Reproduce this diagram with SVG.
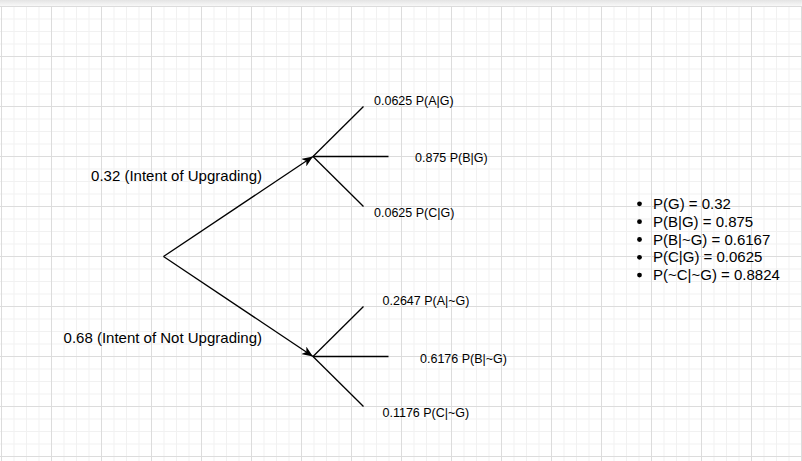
<svg xmlns="http://www.w3.org/2000/svg" width="802" height="461" viewBox="0 0 802 461">
  <defs>
    <linearGradient id="topband" x1="0" y1="0" x2="0" y2="1">
      <stop offset="0" stop-color="#e4e4e4"/>
      <stop offset="1" stop-color="#f8f8f8"/>
    </linearGradient>
    <pattern id="grid" patternUnits="userSpaceOnUse" x="1" y="6" width="50" height="50">
      <rect x="12.5" y="0" width="1" height="50" fill="#f1f1f1"/>
      <rect x="25" y="0" width="1" height="50" fill="#f1f1f1"/>
      <rect x="37.5" y="0" width="1" height="50" fill="#f1f1f1"/>
      <rect x="0" y="12.5" width="50" height="1" fill="#f1f1f1"/>
      <rect x="0" y="25" width="50" height="1" fill="#f1f1f1"/>
      <rect x="0" y="37.5" width="50" height="1" fill="#f1f1f1"/>
      <rect x="0" y="0" width="1" height="50" fill="#dcdcdc"/>
      <rect x="0" y="0" width="50" height="1" fill="#dcdcdc"/>
    </pattern>
    <marker id="arrow" markerUnits="userSpaceOnUse" markerWidth="12" markerHeight="9" refX="11" refY="4.5" orient="auto" viewBox="0 0 12 9">
      <path d="M0,0 L11,4.5 L0,9 L3,4.5 Z" fill="#000"/>
    </marker>
    <style>
      .edge { stroke: #000; stroke-width: 1.3; fill: none; }
      .lbl { font-family: "Liberation Sans", Arial, sans-serif; font-size: 12.5px; fill: #000; }
      .big { font-family: "Liberation Sans", Arial, sans-serif; font-size: 15px; fill: #000; }
    </style>
  </defs>

  <rect x="0" y="0" width="802" height="461" fill="#ffffff"/>
  <rect x="0" y="6" width="802" height="455" fill="url(#grid)"/>
  <rect x="0" y="0" width="802" height="6" fill="url(#topband)"/>

  <g id="connectors">
    <line class="edge" x1="163.5" y1="256.5" x2="313" y2="156.5" marker-end="url(#arrow)"/>
    <line class="edge" x1="163.5" y1="256.5" x2="313" y2="356.5" marker-end="url(#arrow)"/>
    <line class="edge" x1="313" y1="156.5" x2="363.5" y2="106.5"/>
    <line class="edge" x1="313" y1="156.5" x2="388.5" y2="156.5"/>
    <line class="edge" x1="313" y1="156.5" x2="363.5" y2="206.5"/>
    <line class="edge" x1="313" y1="356.5" x2="363.5" y2="306.5"/>
    <line class="edge" x1="313" y1="356.5" x2="388.5" y2="356.5"/>
    <line class="edge" x1="313" y1="356.5" x2="363.5" y2="406.5"/>
  </g>

  <g id="label-upgrading">
    <text class="big" x="262" y="181.3" text-anchor="end">0.32 (Intent of Upgrading)</text>
  </g>
  <g id="label-not-upgrading">
    <text class="big" x="262" y="343.3" text-anchor="end">0.68 (Intent of Not Upgrading)</text>
  </g>

  <g id="node-a-g"><text class="lbl" x="374" y="104.5">0.0625 P(A|G)</text></g>
  <g id="node-b-g"><text class="lbl" x="415" y="161.5">0.875 P(B|G)</text></g>
  <g id="node-c-g"><text class="lbl" x="374" y="217">0.0625 P(C|G)</text></g>
  <g id="node-a-ng"><text class="lbl" x="382.5" y="305">0.2647 P(A|~G)</text></g>
  <g id="node-b-ng"><text class="lbl" x="420" y="362.5">0.6176 P(B|~G)</text></g>
  <g id="node-c-ng"><text class="lbl" x="382.5" y="417">0.1176 P(C|~G)</text></g>

  <g id="summary">
    <circle cx="639.5" cy="203.8" r="2.4" fill="#000"/>
    <text class="big" x="653" y="208.8">P(G) = 0.32</text>
    <circle cx="639.5" cy="221.7" r="2.4" fill="#000"/>
    <text class="big" x="653" y="226.7">P(B|G) = 0.875</text>
    <circle cx="639.5" cy="239.5" r="2.4" fill="#000"/>
    <text class="big" x="653" y="244.5">P(B|~G) = 0.6167</text>
    <circle cx="639.5" cy="257.3" r="2.4" fill="#000"/>
    <text class="big" x="653" y="262.3">P(C|G) = 0.0625</text>
    <circle cx="639.5" cy="275.1" r="2.4" fill="#000"/>
    <text class="big" x="653" y="280.1">P(~C|~G) = 0.8824</text>
  </g>
</svg>
